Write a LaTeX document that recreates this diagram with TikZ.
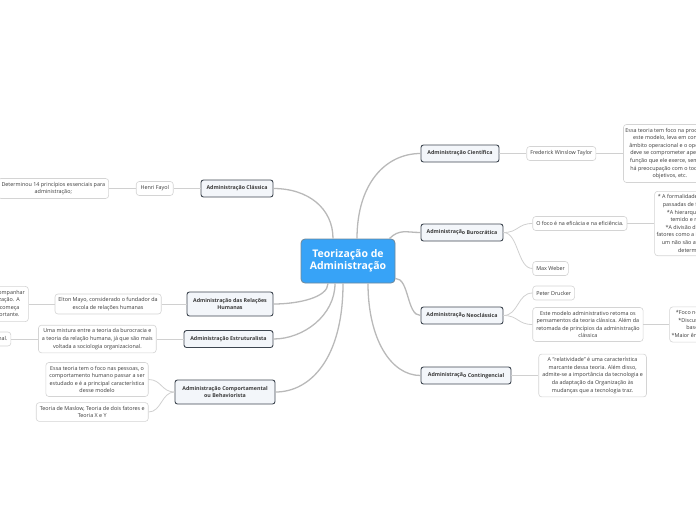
\documentclass[tikz,border=0pt]{standalone}
\usepackage{fontspec}
\setmainfont{Open Sans}
\usetikzlibrary{positioning}
\definecolor{rootblue}{HTML}{37A3F7}
\definecolor{rootline}{HTML}{6F8799}
\definecolor{topicfill}{HTML}{F3F6FA}
\definecolor{topicline}{HTML}{3E4650}
\definecolor{leafline}{HTML}{D4D4D4}
\definecolor{inkgray}{HTML}{3A3A3A}
\definecolor{branchgray}{HTML}{B9B9B9}
\definecolor{twiggray}{HTML}{D0D0D0}
\newcommand\lowtail[1]{\raisebox{-0.8pt}{#1}}

\begin{document}
\begin{tikzpicture}[x=1pt, y=-1pt,
  node distance=27pt,
  root/.style={draw=rootline, fill=rootblue, line width=0.8pt, rounded corners=4pt,
               text=white, align=center, font=\fontsize{10.5}{12.5}\selectfont\bfseries,
               minimum width=94pt, minimum height=44pt},
  topic/.style={draw=topicline, fill=topicfill, line width=0.9pt, rounded corners=2.5pt,
                text=inkgray, align=center, font=\fontsize{5.3}{7}\selectfont\bfseries,
                minimum height=17pt, inner xsep=5pt, inner ysep=3pt},
  leaf/.style={draw=leafline, fill=white, line width=0.6pt, rounded corners=3pt,
               text=inkgray, align=center, font=\fontsize{5.4}{7.6}\selectfont,
               minimum height=14pt, inner xsep=3.5pt, inner ysep=3.5pt},
  branch/.style={draw=branchgray, line width=1.3pt},
  twig/.style={draw=twiggray, line width=0.8pt}]
  \useasboundingbox (0,0) rectangle (696,520);
  \clip (0,0) rectangle (696,520);

  % centro
  \node[root] (theory) at (348,261) {Teorização de\\Administração};

  % ramos da esquerda
  \node[topic, minimum width=72pt] (classica) at (237,188.5) {Administração Clássica};
  \node[topic, minimum width=86pt, minimum height=24pt] (humanas) at (230,304)
    {Administração das Relações\\Humanas};
  \node[topic, minimum width=89pt] (estrut) at (228.5,339) {Administração Estruturalista};
  \node[topic, minimum width=100pt, minimum height=24pt] (comport) at (225,392)
    {Administração Comportamental\\ou Behaviorista};

  % ramos da direita
  \node[topic, minimum width=78pt] (cientif) at (460,153.5) {Administração Científica};
  \node[topic, minimum width=82pt] (buroc) at (462,232.5) {Administraçã\lowtail{o Burocrática}};
  \node[topic, minimum width=82pt] (neoc) at (462,315.5) {Administraçã\lowtail{o Neoclássica}};
  \node[topic, minimum width=90pt] (conting) at (466,375.5) {Administraçã\lowtail{o Contingencial}};

  % folhas
  \node[leaf, left=of classica, minimum width=37pt] (fayol) {Henri Fayol};
  \node[leaf, left=of fayol] (principios) {Determinou 14 princípios essenciais para\\administração;};
  \node[leaf, left=25pt of humanas] (mayo) {Elton Mayo, considerado o fundador da\\escola de relações humanas};
  \node[leaf, left=26pt of mayo] (valoriza)
    {O homem passou a acompanhar\\o trabalho da organização. A\\valorização humana começa\\a ser vista como importante.};
  \node[leaf, left=of estrut] (mistura)
    {Uma mistura entre a teoria da burocracia e\\a teoria da relação humana, já que são mais\\voltada a sociologia organizacional.};
  \node[leaf, left=of mistura] (estrutnota) {Organização formal e informal.};
  \node[leaf, left=26pt of comport, yshift=12.5pt] (pessoas)
    {Essa teoria tem o foco nas pessoas, o\\comportamento humano passar a ser\\estudado e é a principal característica\\desse modelo};
  \node[leaf, left=26pt of comport, yshift=-20pt] (maslow)
    {Teoria de Maslow, Teoria de dois fatores e\\Teoria X e Y};

  \node[leaf, right=of cientif] (taylor) {Frederick Winslow Taylor};
  \node[leaf, right=of taylor, inner xsep=2pt] (taylornota)
    {Essa teoria tem foco na produção e\\este modelo, leva em conta o\\âmbito operacional e o operário\\deve se comprometer apenas a\\função que ele exerce, sem que\\há preocupação com o todo, os\\objetivos, etc.};
  \node[leaf, right=29pt of buroc, yshift=9pt] (foco) {O foco é na eficácia e na eficiência.};
  \node[leaf, right=29pt of buroc, yshift=-36pt] (weber) {Max Weber};
  \node[leaf, right=of foco, inner xsep=2pt] (burolista)
    {* A formalidade, as ordens são\\passadas de forma escrita.\\*A hierarquia, o chefe é\\temido e respeitado.\\*A divisão do trabalho, e\\fatores como a impessoalidade,\\um não são avaliados e sim\\determinados.};
  \node[leaf, right=29pt of neoc, yshift=22.5pt] (drucker) {Peter Drucker};
  \node[leaf, right=29pt of neoc, yshift=-9pt] (retoma)
    {Este modelo administrativo retoma os\\pensamentos da teoria clássica. Além da\\retomada de princípios da administração\\clássica};
  \node[leaf, right=26pt of retoma, inner xsep=2pt] (neolista)
    {*Foco nos resultados\\*Discussão sobre a\\base clássica\\*Maior ênfase na gestão};
  \node[leaf, right=of conting] (relativ)
    {A "relatividade" é uma característica\\marcante dessa teoria. Além disso,\\admite-se a importância da tecnologia e\\da adaptação da Organização às\\mudanças que a tecnologia traz.};

  % ligações do centro
  \draw[branch] ([xshift=-15pt]theory.north) .. controls +(0,-30) and +(35,0) .. (classica.east);
  \draw[branch] ([xshift=9pt]theory.north) .. controls +(0,-55) and +(-35,0) .. (cientif.west);
  \draw[branch] ([xshift=-6pt]theory.north east) .. controls +(10,-10) and +(-14,0) .. (buroc.west);
  \draw[branch] ([yshift=5pt]theory.south east) .. controls +(14,0) and +(-14,0) .. (neoc.west);
  \draw[branch] ([xshift=20pt]theory.south) .. controls +(0,55) and +(-30,0) .. (conting.west);
  \draw[branch] ([xshift=-20pt]theory.south) .. controls +(0,14) and +(25,0) .. (humanas.east);
  \draw[branch] ([xshift=-13pt]theory.south) .. controls +(0,32) and +(30,0) .. (estrut.east);
  \draw[branch] ([xshift=-5pt]theory.south) .. controls +(0,75) and +(35,0) .. (comport.east);

  % ligações das folhas
  \draw[twig] (classica) -- (fayol);
  \draw[twig] (fayol) -- (principios);
  \draw[twig] (humanas) -- (mayo);
  \draw[twig] (mayo) -- (valoriza);
  \draw[twig] (estrut) -- (mistura);
  \draw[twig] (mistura) -- (estrutnota);
  \draw[twig] (comport.west) .. controls +(-13,0) and +(13,0) .. (pessoas.east);
  \draw[twig] (comport.west) .. controls +(-13,0) and +(13,0) .. (maslow.east);
  \draw[twig] (cientif) -- (taylor);
  \draw[twig] (taylor) -- (taylornota);
  \draw[twig] (buroc.east) .. controls +(15,0) and +(-15,0) .. (foco.west);
  \draw[twig] (buroc.east) .. controls +(15,0) and +(-15,0) .. (weber.west);
  \draw[twig] (foco) -- (burolista);
  \draw[twig] (neoc.east) .. controls +(15,0) and +(-15,0) .. (drucker.west);
  \draw[twig] (neoc.east) .. controls +(15,0) and +(-15,0) .. (retoma.west);
  \draw[twig] (retoma) -- (neolista);
  \draw[twig] (conting) -- (relativ);
\end{tikzpicture}
\end{document}
